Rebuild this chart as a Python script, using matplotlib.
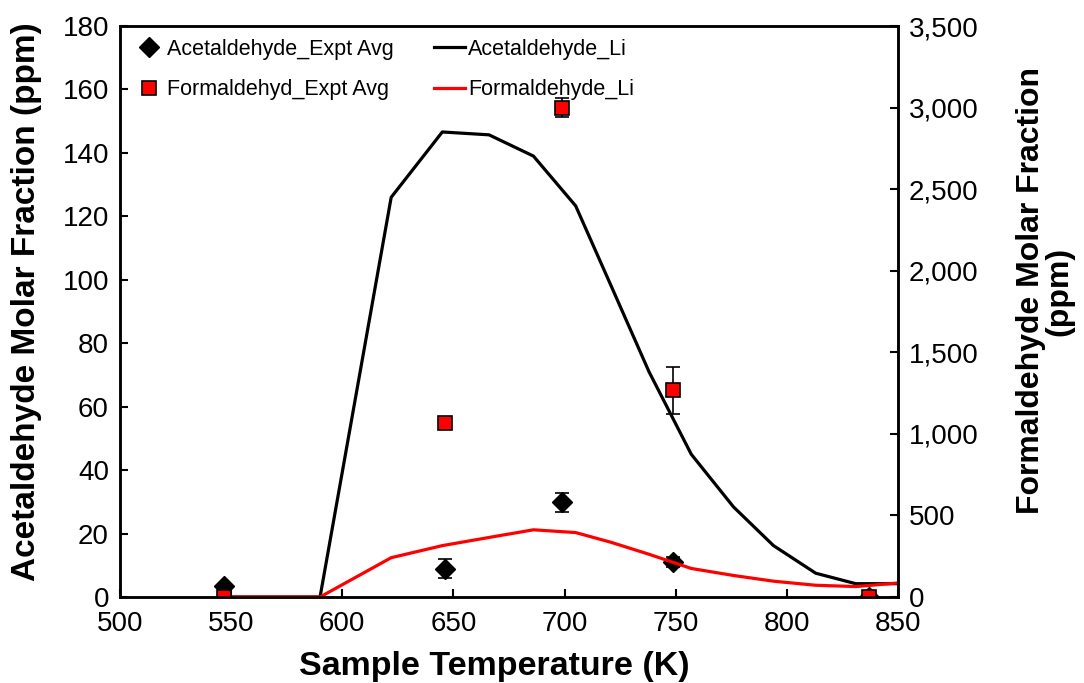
import numpy as np
import matplotlib.pyplot as plt
from matplotlib.lines import Line2D
from matplotlib import font_manager

plt.rcParams['font.family'] = ['Liberation Sans', 'DejaVu Sans']

# 실험 데이터
expt_temp = [547, 646, 699, 749, 837]
acet_expt = [3.4, 8.9, 29.9, 11.0, 0.0]
acet_err = [0.0, 3.0, 3.0, 1.5, 0.0]
form_expt = [0, 1066, 3000, 1266, 0]
form_err = [0, 0, 56, 143, 0]

# 모델 (Li)
model_temp = [547, 590, 622, 645, 666, 686, 705, 721, 738, 757, 776, 794, 813, 831, 850]
acet_li = [0, 0, 126, 146.6, 145.7, 139, 123.3, 98, 71, 45, 28.4, 16.2, 7.5, 4.2, 4.2]
form_li = [0, 0, 241, 315, 365, 412, 395, 335, 262, 175, 132, 97, 72, 64, 86]

# 범례 글꼴 (좁은 글꼴이 있으면 사용)
names = {f.name for f in font_manager.fontManager.ttflist}
leg_family = 'Liberation Sans Narrow' if 'Liberation Sans Narrow' in names else 'Liberation Sans'
leg_size = 19 if leg_family == 'Liberation Sans Narrow' else 15.5

fig = plt.figure(figsize=(10.84, 6.83), dpi=100)
ax1 = fig.add_axes([0.1107, 0.1259, 0.7177, 0.8360])
ax2 = ax1.twinx()

ax1.plot(model_temp, acet_li, color='black', lw=2.3)
ax1.errorbar(expt_temp, acet_expt, yerr=acet_err, fmt='D', color='black', ms=10,
             ecolor='black', elinewidth=1.2, capsize=5, capthick=1.2)

ax2.plot(model_temp, form_li, color='#ff0000', lw=2.3)
ax2.errorbar(expt_temp, form_expt, yerr=form_err, fmt='s', mfc='#ff0000', mec='black',
             mew=1.2, ms=10, ecolor='black', elinewidth=1.2, capsize=5, capthick=1.2)

ax1.set_xlim(500, 850)
ax1.set_ylim(0, 180)
ax2.set_ylim(0, 3500)
ax1.set_xticks(np.arange(500, 851, 50))
ax1.set_yticks(np.arange(0, 181, 20))
ax2.set_yticks(np.arange(0, 3501, 500))
ax2.set_yticklabels([f'{v:,}' for v in range(0, 3501, 500)])

for ax in (ax1, ax2):
    ax.tick_params(direction='in', length=6, width=1.5, labelsize=20, pad=8)
    for s in ax.spines.values():
        s.set_linewidth(1.8)
ax1.tick_params(axis='x', pad=10)

ax1.set_xlabel('Sample Temperature (K)', fontsize=24.5, fontweight='bold', va='center')
ax1.xaxis.set_label_coords(0.481, -0.122)
ax1.set_ylabel('Acetaldehyde Molar Fraction (ppm)', fontsize=24, fontweight='bold')
ax1.yaxis.set_label_coords(-0.100, 0.518)
ax2.set_ylabel('Formaldehyde Molar Fraction\n(ppm)', fontsize=23, fontweight='bold',
               rotation=90, linespacing=0.9)
ax2.yaxis.set_label_coords(1.152, 0.536)

handles = [
    Line2D([], [], ls='none', marker='D', color='black', ms=10),
    Line2D([], [], ls='none', marker='s', mfc='#ff0000', mec='black', mew=1.2, ms=10),
    Line2D([], [], color='black', lw=2.3),
    Line2D([], [], color='#ff0000', lw=2.3),
]
labels = ['Acetaldehyde_Expt Avg', 'Formaldehyd_Expt Avg', 'Acetaldehyde_Li', 'Formaldehyde_Li']
ax2.legend(handles, labels, ncol=2, frameon=False, loc='upper left',
           prop={'family': leg_family, 'size': leg_size},
           bbox_to_anchor=(0.0, 1.0), columnspacing=1.83, handlelength=1.45,
           handletextpad=0.15, labelspacing=0.9, borderaxespad=0.2)

plt.savefig('out.png', dpi=100)
